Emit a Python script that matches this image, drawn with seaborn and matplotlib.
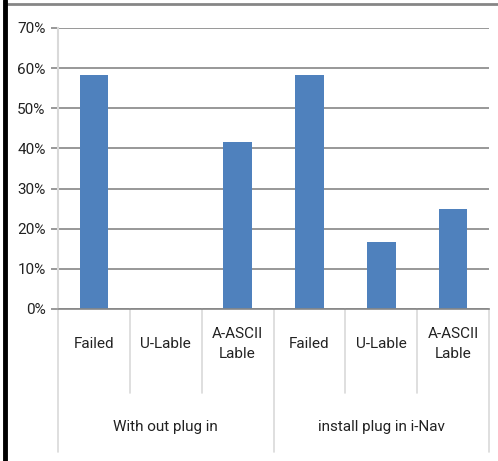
import matplotlib
matplotlib.use('Agg')
import matplotlib.pyplot as plt
import seaborn as sns
import pandas as pd
from matplotlib.lines import Line2D

# data
groups = ['With out plug in', 'install plug in i-Nav']
categories = ['Failed', 'U-Lable', 'A-ASCII\nLable']
values_without = [0.5833, 0.0, 0.4167]
values_install = [0.5833, 0.1667, 0.25]
yticks = [0, 0.1, 0.2, 0.3, 0.4, 0.5, 0.6, 0.7]

sns.set_style('white')
plt.rcParams['font.family'] = ['Roboto', 'DejaVu Sans']

rows = []
for g, vals in zip(groups, [values_without, values_install]):
    for c, v in zip(categories, vals):
        rows.append({'pos': g + '|' + c, 'group': g, 'cat': c, 'value': v})
df = pd.DataFrame(rows)

fig = plt.figure(figsize=(4.98, 4.61), dpi=100)
W, H = 498, 461
ax = fig.add_axes([58 / W, (H - 309) / H, (489 - 58) / W, (309 - 28) / H])

sns.barplot(data=df, x='pos', y='value', color='#4F81BD', width=0.4,
            saturation=1, ax=ax, order=df['pos'], linewidth=0)

ax.set_ylim(0, 0.7)
ax.set_xlim(-0.5, 5.5)
ax.set_yticks(yticks)
ax.set_yticklabels([f'{int(round(t * 100))}%' for t in yticks], fontsize=11,
                   color='#222222')
ax.yaxis.grid(True, color='#868686', linewidth=1.2)
ax.set_axisbelow(True)
ax.tick_params(axis='y', left=True, length=5, width=1.2, color='#868686', pad=4,
               direction='out')
ax.tick_params(axis='x', length=0, labelbottom=False)
ax.set_xlabel('')
ax.set_ylabel('')
for s in ['top', 'right']:
    ax.spines[s].set_visible(False)
ax.spines['bottom'].set_color('#868686')
ax.spines['bottom'].set_linewidth(1.2)
ax.spines['left'].set_color('#D9D9D9')
ax.spines['left'].set_linewidth(1.5)

# multi-level category axis below the plot
trans = ax.get_xaxis_transform()
px = 1 / (309 - 28)
for i, c in enumerate(list(categories) * 2):
    ax.text(i, -(344 - 309) * px, c, transform=trans, ha='center', va='center',
            fontsize=11, color='#222222', linespacing=1.55)
for i in [1, 2, 4, 5]:
    ax.add_line(Line2D([i - 0.5, i - 0.5], [0, -(393 - 309) * px], transform=trans,
                       color='#D9D9D9', linewidth=1.2, clip_on=False))
for i in [0, 3, 6]:
    ax.add_line(Line2D([i - 0.5, i - 0.5], [0, -(452 - 309) * px], transform=trans,
                       color='#D9D9D9', linewidth=1.2, clip_on=False))
for j, g in enumerate(groups):
    ax.text(1 + 3 * j, -(427 - 309) * px, g, transform=trans, ha='center', va='center',
            fontsize=11, color='#222222')

# frame pieces from the original screenshot
fig.add_artist(Line2D([7 / W, 1], [1 - 4 / H, 1 - 4 / H], transform=fig.transFigure,
                      color='#868686', linewidth=2))
fig.add_artist(Line2D([5 / W, 5 / W], [0, 1], transform=fig.transFigure,
                      color='black', linewidth=3.5))

fig.savefig('out.png', dpi=100)
